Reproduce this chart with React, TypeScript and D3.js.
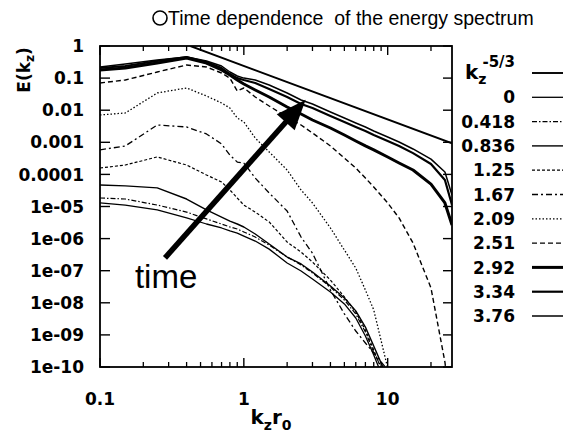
import React from 'react';
import * as d3 from 'd3';

// ---------- data ----------
const kValues = [0.1, 0.15, 0.25, 0.4, 0.55, 0.7, 0.8, 0.9, 1, 1.2, 1.5, 2, 2.5, 3, 4, 5, 6, 7, 8, 10, 12, 15, 20, 25, 28];

const specT0 = [1.29e-5, 1.11e-5, 7.8e-6, 4.4e-6, 2.85e-6, 2.14e-6, 1.73e-6, 1.49e-6, 1.2e-6, 8.4e-7, 4.7e-7, 1.74e-7, 9.8e-8, 5.5e-8, 2.17e-8, 9.2e-9, 3.36e-9, 9.2e-10, 2.37e-10, 2e-11, null, null, null, null, null];
const specT0418 = [1.84e-5, 1.71e-5, 1.11e-5, 6.7e-6, 4.1e-6, 2.85e-6, 2.3e-6, 1.99e-6, 1.61e-6, 1.12e-6, 6.3e-7, 2.67e-7, 1.51e-7, 8.5e-8, 3.1e-8, 1.22e-8, 4.5e-9, 1.23e-9, 2.9e-10, 3.9e-11, null, null, null, null, null];
const specT0836 = [4.7e-5, 4.4e-5, 3.8e-5, 1.71e-5, 7.8e-6, 4.7e-6, 3.5e-6, 2.85e-6, 2.3e-6, 1.39e-6, 6.8e-7, 2.67e-7, 1.62e-7, 9.1e-8, 3.33e-8, 1.41e-8, 5.6e-9, 1.76e-9, 4.5e-10, 4.5e-11, null, null, null, null, null];
const specT125 = [1.58e-4, 1.96e-4, 3.5e-4, 1.96e-4, 9.6e-5, 5.8e-5, 3.27e-5, 1.84e-5, 1.11e-5, 6.7e-6, 3.3e-6, 7.8e-7, 3.8e-7, 1.87e-7, 5.1e-8, 1.52e-8, 5.2e-9, 1.42e-9, 3.4e-10, 2.7e-11, null, null, null, null, null];
const specT167 = [5.8e-4, 7.7e-4, 3.46e-3, 3.0e-3, 1.82e-3, 8.9e-4, 4.0e-4, 2.43e-4, 2.26e-4, 7.7e-5, 2.64e-5, 7.2e-6, 1.12e-6, 3.5e-7, 2.5e-8, 4.5e-9, 1.32e-9, 5.6e-10, 2.73e-10, 8.1e-11, null, null, null, null, null];
const specT209 = [7.1e-3, 8.2e-3, 0.0344, 0.0492, 0.0277, 0.0168, 0.0117, 5.7e-3, 4.3e-3, 1.36e-3, 5.0e-4, 1.37e-4, 3.27e-5, 1.29e-5, 2.14e-6, 4.4e-7, 1.21e-7, 2.5e-8, 6.0e-9, 9.3e-11, null, null, null, null, null];
const specT251 = [0.0704, 0.0873, 0.155, 0.256, 0.222, 0.144, 0.1, 0.0397, 0.0492, 0.0258, 0.0135, 6.1e-3, 3.46e-3, 1.95e-3, 7.7e-4, 3.24e-4, 1.58e-4, 7.7e-5, 4.05e-5, 1.29e-5, 4.4e-6, 7.3e-7, 2.9e-8, 1.43e-10, 2.2e-12];
const specT292 = [0.179, 0.206, 0.295, 0.423, 0.295, 0.179, 0.125, 0.0873, 0.0655, 0.0426, 0.0258, 0.0126, 7.6e-3, 4.95e-3, 2.79e-3, 1.69e-3, 1.1e-3, 7.7e-4, 5.8e-4, 3.48e-4, 2.26e-4, 1.37e-4, 5.0e-5, 1.29e-5, 2.65e-6];
const specT334 = [0.206, 0.238, 0.341, 0.454, 0.318, 0.206, 0.134, 0.1, 0.0873, 0.0704, 0.0457, 0.0258, 0.0156, 0.0117, 6.6e-3, 4.3e-3, 3.0e-3, 2.25e-3, 1.69e-3, 1.1e-3, 7.7e-4, 4.6e-4, 2.11e-4, 6.7e-5, 1.11e-5];
const specT376 = [0.222, 0.275, 0.366, 0.454, 0.341, 0.238, 0.155, 0.116, 0.1, 0.0873, 0.061, 0.0344, 0.0208, 0.0156, 8.8e-3, 5.7e-3, 4.0e-3, 3.0e-3, 2.25e-3, 1.46e-3, 1.02e-3, 6.2e-4, 3.0e-4, 1.19e-4, 2.28e-5];

const timeLabels = ['0', '0.418', '0.836', '1.25', '1.67', '2.09', '2.51', '2.92', '3.34', '3.76'];
const seriesValues = [specT0, specT0418, specT0836, specT125, specT167, specT209, specT251, specT292, specT334, specT376];

// k^-5/3 reference line endpoints
const refK = [0.425, 28];
const refE = [1, 9.3e-4];

const yTicks = [1, 0.1, 0.01, 0.001, 0.0001, 1e-5, 1e-6, 1e-7, 1e-8, 1e-9, 1e-10];
const yTickLabels = ['1', '0.1', '0.01', '0.001', '0.0001', '1e-05', '1e-06', '1e-07', '1e-08', '1e-09', '1e-10'];
const xTicks = [0.1, 1, 10];
const xTickLabels = ['0.1', '1', '10'];
const xMinorTicks = [0.2, 0.3, 0.4, 0.5, 0.6, 0.7, 0.8, 0.9, 2, 3, 4, 5, 6, 7, 8, 9, 20];

// arrow annotation ("time")
const arrowTail = { k: 0.283, e: 2.5e-7 };
const arrowTip = { k: 2.69, e: 0.021 };
const timeTextPos = { k: 0.175, e: 2.9e-8 };

// ---------- styles ----------
const seriesStyles = [
  { w: 1.3, dash: null },          // 0
  { w: 1.2, dash: '5,2,1.5,2' },   // 0.418
  { w: 1.4, dash: null },          // 0.836
  { w: 1.2, dash: '3,2' },         // 1.25
  { w: 1.3, dash: '6,3,2,3' },     // 1.67
  { w: 1.3, dash: '1.5,2' },       // 2.09
  { w: 1.4, dash: '5,3' },         // 2.51
  { w: 3.0, dash: null },          // 2.92
  { w: 2.2, dash: null },          // 3.34
  { w: 1.5, dash: null },          // 3.76
];
const refStyle = { w: 1.9, dash: null };

const W = 566, H = 437;
const M = { left: 100, right: 452, top: 46, bottom: 367 };
const LBL_FONT = '"DejaVu Sans", Verdana, sans-serif';
const TXT_FONT = '"Liberation Sans", Arial, Helvetica, sans-serif';

export default function App() {
  const x = d3.scaleLog().domain([0.1, 28]).range([M.left, M.right]);
  const y = d3.scaleLog().domain([1e-10, 1]).range([M.bottom, M.top]);

  const line = d3
    .line<[number, number | null]>()
    .defined((d) => d[1] != null)
    .x((d) => x(d[0]))
    .y((d) => y(d[1] as number));

  const refPath = line(refK.map((k, i) => [k, refE[i]]));

  // arrow geometry
  const tx = x(arrowTail.k), ty = y(arrowTail.e);
  const hx = x(arrowTip.k), hy = y(arrowTip.e);
  const len = Math.hypot(hx - tx, hy - ty);
  const ux = (hx - tx) / len, uy = (hy - ty) / len;
  const headLen = 30, headHalf = 12;
  const bx = hx - ux * headLen, by = hy - uy * headLen;
  const px = -uy, py = ux;
  const headPts = [
    [hx, hy],
    [bx + px * headHalf, by + py * headHalf],
    [bx - px * headHalf, by - py * headHalf],
  ].map((p) => p.join(',')).join(' ');

  const legendY0 = 73, legendDy = 24.3;

  return (
    <svg width={W} height={H} style={{ position: 'absolute', left: 0, top: 0, background: '#fff' }}>
      <rect x={0} y={0} width={W} height={H} fill="#fff" />
      <defs>
        <clipPath id="plotClip">
          <rect x={M.left} y={M.top} width={M.right - M.left} height={M.bottom - M.top} />
        </clipPath>
      </defs>

      {/* title */}
      <circle cx={160} cy={18} r={7} fill="none" stroke="#000" strokeWidth={1.6} />
      <text x={168} y={25} fontFamily={TXT_FONT} fontSize={19.5} fill="#000" style={{ whiteSpace: 'pre' }}>
        {'Time dependence  of the energy spectrum'}
      </text>

      {/* curves */}
      <g clipPath="url(#plotClip)" fill="none" stroke="#000" strokeLinejoin="round">
        {seriesValues.map((vals, si) => (
          <path
            key={si}
            d={line(kValues.map((k, i) => [k, vals[i]])) || ''}
            strokeWidth={seriesStyles[si].w}
            strokeDasharray={seriesStyles[si].dash || undefined}
          />
        ))}
        <path d={refPath || ''} strokeWidth={refStyle.w} />
      </g>

      {/* frame */}
      <rect x={M.left} y={M.top} width={M.right - M.left} height={M.bottom - M.top} fill="none" stroke="#000" strokeWidth={1.8} />

      {/* y ticks */}
      {yTicks.map((t, i) => (
        <g key={'y' + i}>
          <line x1={M.left} x2={M.left + 10} y1={y(t)} y2={y(t)} stroke="#000" strokeWidth={1.4} />
          <line x1={M.right} x2={M.right - 9} y1={y(t)} y2={y(t)} stroke="#000" strokeWidth={1.4} />
          <text x={84} y={y(t)} dy="0.36em" textAnchor="end" fontFamily={LBL_FONT} fontWeight="bold" fontSize={17}>
            {yTickLabels[i]}
          </text>
        </g>
      ))}

      {/* x ticks */}
      {xTicks.map((t, i) => (
        <g key={'x' + i}>
          <line x1={x(t)} x2={x(t)} y1={M.bottom} y2={M.bottom - 9} stroke="#000" strokeWidth={1.4} />
          <line x1={x(t)} x2={x(t)} y1={M.top} y2={M.top + 9} stroke="#000" strokeWidth={1.4} />
          <text x={x(t)} y={405} textAnchor="middle" fontFamily={LBL_FONT} fontWeight="bold" fontSize={17}>
            {xTickLabels[i]}
          </text>
        </g>
      ))}
      {xMinorTicks.map((t, i) => (
        <g key={'xm' + i}>
          <line x1={x(t)} x2={x(t)} y1={M.bottom} y2={M.bottom - 5} stroke="#000" strokeWidth={1.3} />
          <line x1={x(t)} x2={x(t)} y1={M.top} y2={M.top + 5} stroke="#000" strokeWidth={1.3} />
        </g>
      ))}

      {/* axis titles */}
      <text x={271} y={424} textAnchor="middle" fontFamily={LBL_FONT} fontWeight="bold" fontSize={20}>
        k<tspan dy={6} fontSize={14}>z</tspan>
        <tspan dy={-6}>r</tspan>
        <tspan dy={6} fontSize={14}>0</tspan>
      </text>
      <text transform="translate(30,70) rotate(-90)" textAnchor="middle" fontFamily={LBL_FONT} fontWeight="bold" fontSize={17}>
        E(k<tspan dy={4} fontSize={12}>z</tspan>
        <tspan dy={-4}>)</tspan>
      </text>

      {/* arrow */}
      <line x1={tx} y1={ty} x2={bx + ux * 3} y2={by + uy * 3} stroke="#000" strokeWidth={5.5} />
      <polygon points={headPts} fill="#000" />
      <text x={x(timeTextPos.k)} y={y(timeTextPos.e)} fontFamily={TXT_FONT} fontSize={33}>
        time
      </text>

      {/* legend */}
      <text x={515} y={legendY0 + 6} textAnchor="end" fontFamily={LBL_FONT} fontWeight="bold" fontSize={20}>
        k<tspan dy={5} fontSize={14}>z</tspan>
        <tspan dx={-4} dy={-17} fontSize={15}>-5/3</tspan>
      </text>
      <line x1={532} x2={563} y1={legendY0} y2={legendY0} stroke="#000" strokeWidth={refStyle.w} />
      {timeLabels.map((lab, i) => {
        const ly = legendY0 + legendDy * (i + 1);
        return (
          <g key={'lg' + i}>
            <text x={515} y={ly} dy="0.36em" textAnchor="end" fontFamily={LBL_FONT} fontWeight="bold" fontSize={17}>
              {lab}
            </text>
            <line
              x1={532}
              x2={563}
              y1={ly}
              y2={ly}
              stroke="#000"
              strokeWidth={seriesStyles[i].w}
              strokeDasharray={seriesStyles[i].dash || undefined}
            />
          </g>
        );
      })}
    </svg>
  );
}
